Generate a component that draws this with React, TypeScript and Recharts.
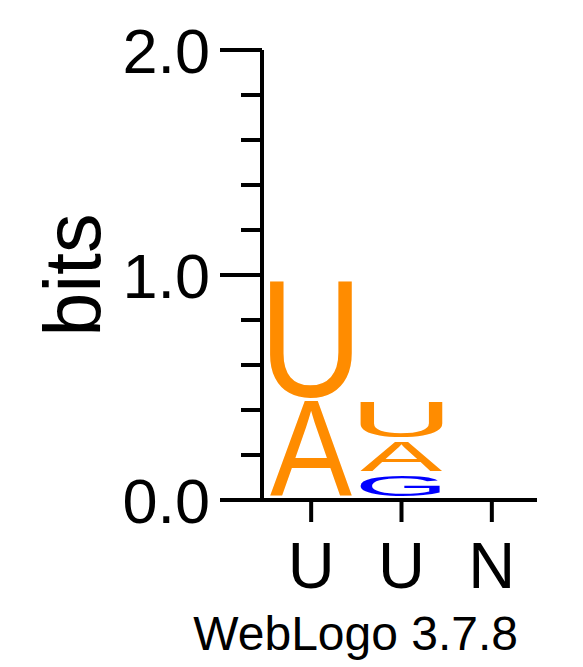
import React from 'react';
import { BarChart, Bar, XAxis, YAxis } from 'recharts';

// Sequence positions (x tick labels)
const positions = ['U', 'U', 'N'];
// Stack layers, bottom to top (letter and its height in bits) per position
const layer1Letters = ['A', 'G', ''];
const layer1Bits = [0.436, 0.111, 0];
const layer2Letters = ['U', 'A', ''];
const layer2Bits = [0.538, 0.147, 0];
const layer3Letters = ['', 'U', ''];
const layer3Bits = [0, 0.173, 0];
// Y ticks (bits)
const yTicks = [0, 0.2, 0.4, 0.6, 0.8, 1.0, 1.2, 1.4, 1.6, 1.8, 2.0];

const FONT = '"Liberation Sans", Arial, Helvetica, sans-serif';

const colors: Record<string, string> = {
  A: '#FF8C00',
  U: '#FF8C00',
  G: '#0000FF',
  C: '#0000FF',
};

// approximate glyph ink boxes (em units): x0, x1, y0 (below baseline negative), y1
const glyph: Record<string, [number, number, number, number]> = {
  A: [0.0, 0.667, 0, 0.688],
  U: [0.076, 0.646, -0.012, 0.688],
  G: [0.048, 0.725, -0.012, 0.700],
  C: [0.05, 0.68, -0.012, 0.700],
};

const data = positions.map((p, i) => ({
  pos: p,
  l1: layer1Bits[i],
  l2: layer2Bits[i],
  l3: layer3Bits[i],
}));

function Letter(props: any) {
  const { x, y, width, height, letter } = props;
  if (!letter || !(height > 0)) return null;
  const m = glyph[letter];
  const fs = 100;
  const W = width;
  const H = height - 4;
  if (H <= 0) return null;
  const sx = W / ((m[1] - m[0]) * fs);
  const sy = H / ((m[3] - m[2]) * fs);
  const tx = x - m[0] * fs * sx;
  const ty = y + H + m[2] * fs * sy;
  return (
    <text
      transform={`translate(${tx},${ty}) scale(${sx},${sy})`}
      fontSize={fs}
      fontFamily={FONT}
      fill={colors[letter]}
    >
      {letter}
    </text>
  );
}

function YTick(props: any) {
  const { x, y, payload } = props;
  const v = payload.value;
  const major = Math.abs(v - Math.round(v)) < 1e-6;
  return (
    <g>
      <line x1={x - (major ? 42 : 21)} x2={x} y1={y} y2={y} stroke="#000" strokeWidth={4} />
      {major && (
        <text x={x - 52} y={y + 23} textAnchor="end" fontSize={63} fontFamily={FONT} fill="#000">
          {Number(v).toFixed(1)}
        </text>
      )}
    </g>
  );
}

function XTick(props: any) {
  const { x, y, payload } = props;
  return (
    <g>
      <line x1={x} x2={x} y1={y} y2={y + 22} stroke="#000" strokeWidth={4} />
      <text x={x} y={y + 88} textAnchor="middle" fontSize={65} fontFamily={FONT} fill="#000">
        {payload.value}
      </text>
    </g>
  );
}

function BitsLabel(props: any) {
  const vb = props.viewBox || {};
  const cx = vb.x + 100;
  const cy = vb.y + vb.height / 2;
  return (
    <text
      x={cx}
      y={cy}
      transform={`rotate(-90, ${cx}, ${cy})`}
      textAnchor="middle"
      fontSize={79}
      fontFamily={FONT}
      fill="#000"
    >
      bits
    </text>
  );
}

function CreditLabel(props: any) {
  const vb = props.viewBox || {};
  return (
    <text
      x={vb.x + vb.width - 19}
      y={vb.y + 150}
      textAnchor="end"
      fontSize={48}
      fontFamily={FONT}
      fill="#000"
    >
      WebLogo 3.7.8
    </text>
  );
}

export default function App() {
  return (
    <div style={{ position: 'absolute', left: 0, top: 0, background: '#fff' }}>
      <BarChart
        width={583}
        height={667}
        data={data}
        margin={{ top: 50, right: 46, bottom: 0, left: 0 }}
        barSize={82}
      >
        <XAxis
          dataKey="pos"
          height={167}
          tickSize={0}
          tickMargin={0}
          interval={0}
          padding={{ left: 4, right: 0 }}
          axisLine={{ stroke: '#000', strokeWidth: 4 }}
          tickLine={false}
          tick={(p: any) => <XTick {...p} />}
          label={(p: any) => <CreditLabel {...p} />}
        />
        <YAxis
          width={262}
          domain={[0, 2]}
          ticks={yTicks}
          interval={0}
          tickSize={0}
          tickMargin={0}
          axisLine={{ stroke: '#000', strokeWidth: 4 }}
          tickLine={false}
          tick={(p: any) => <YTick {...p} />}
          label={(p: any) => <BitsLabel {...p} />}
        />
        <Bar
          dataKey="l1"
          stackId="s"
          isAnimationActive={false}
          shape={(p: any) => <Letter {...p} letter={layer1Letters[p.index]} />}
        />
        <Bar
          dataKey="l2"
          stackId="s"
          isAnimationActive={false}
          shape={(p: any) => <Letter {...p} letter={layer2Letters[p.index]} />}
        />
        <Bar
          dataKey="l3"
          stackId="s"
          isAnimationActive={false}
          shape={(p: any) => <Letter {...p} letter={layer3Letters[p.index]} />}
        />
      </BarChart>
    </div>
  );
}
